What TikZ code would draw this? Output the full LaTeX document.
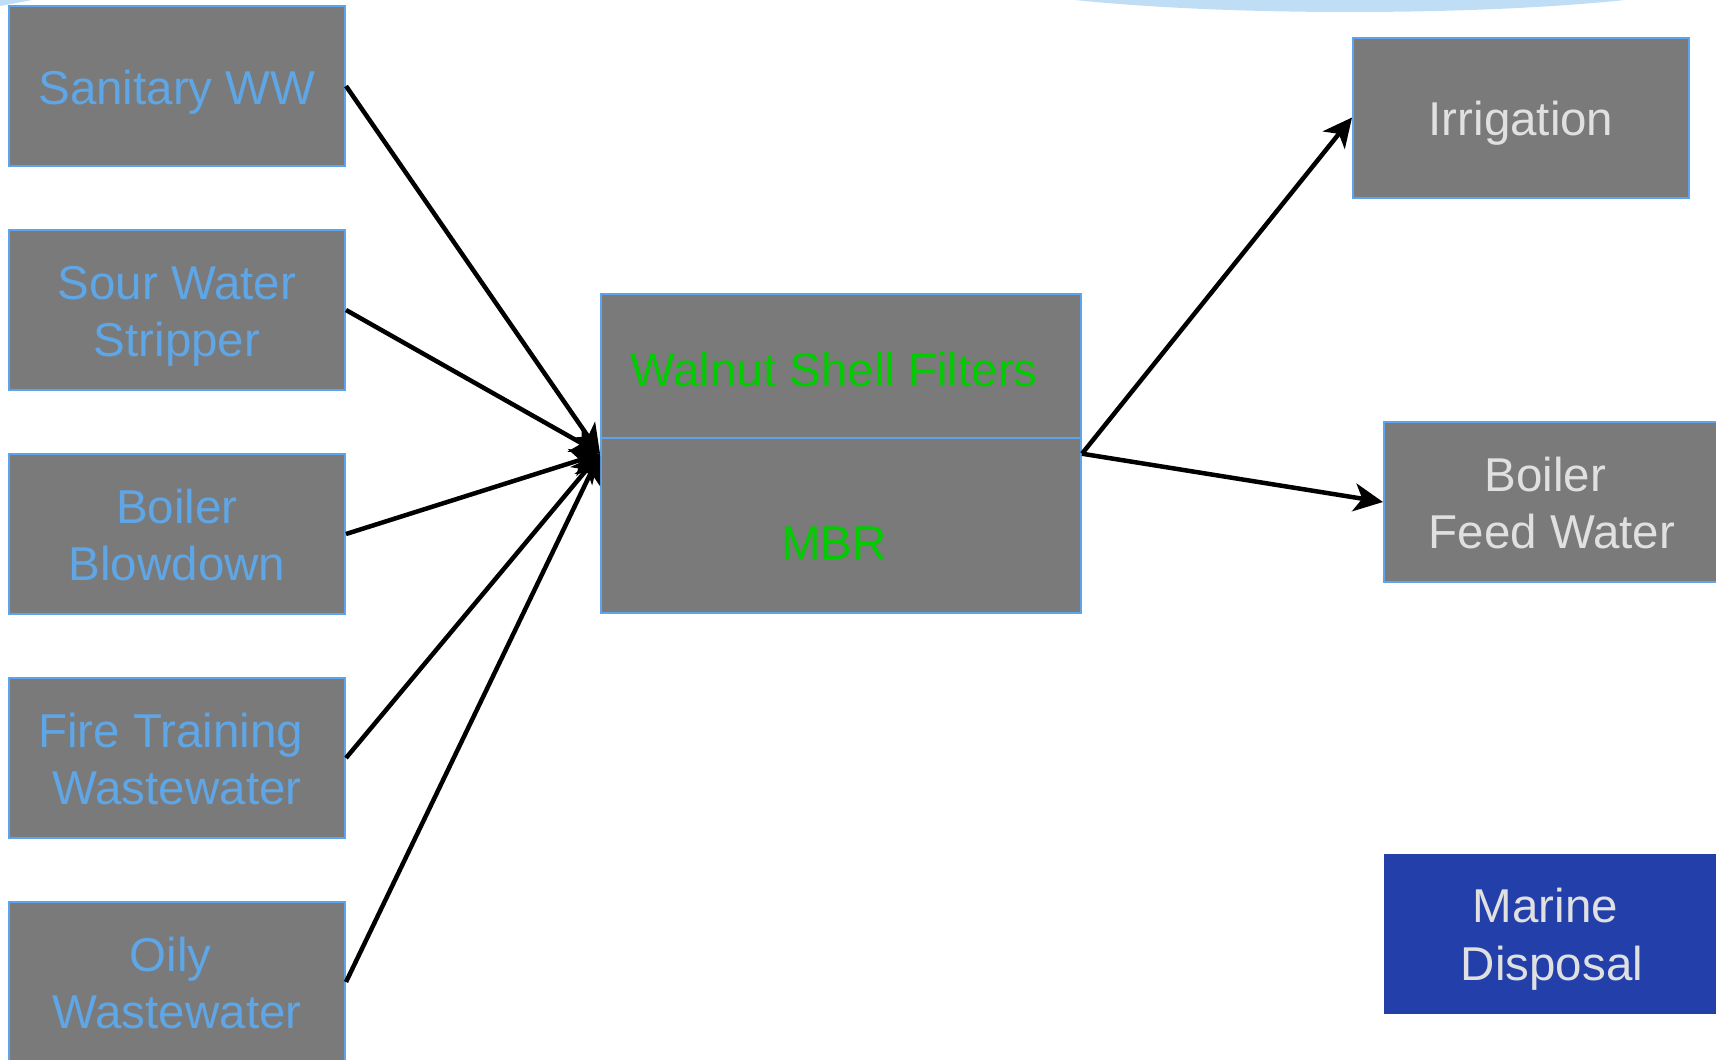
\documentclass[tikz,border=0pt]{standalone}
\usepackage{fontspec}
\setmainfont{Liberation Sans}
\usetikzlibrary{arrows.meta}
\definecolor{boxgray}{HTML}{7A7A7A}
\definecolor{boxedge}{HTML}{5DA5E8}
\definecolor{srctext}{HTML}{5EA6E6}
\definecolor{lighttext}{HTML}{E0E0E0}
\definecolor{greentext}{HTML}{00CC00}
\definecolor{marineblue}{HTML}{2340AA}
\definecolor{arcblue}{HTML}{C0DDF6}
\newcommand{\tup}{\rule{0pt}{47pt}}
\newcommand{\tdn}{\rule[-11pt]{0pt}{11pt}}
\begin{document}
\begin{tikzpicture}[x=1pt,y=-1pt,
  box/.style={draw=boxedge, line width=2pt, fill=boxgray, minimum width=336pt,
    minimum height=160pt, inner sep=0pt, align=center,
    font=\fontsize{47.5}{57.5}\selectfont},
  srcbox/.style={box, text=srctext},
  dstbox/.style={box, text=lighttext},
  bigtext/.style={font=\fontsize{47.5}{57.5}\selectfont, text=greentext, inner sep=0pt},
  flow/.style={line width=4.5pt, -{Stealth[length=29pt,width=28pt,inset=8pt]}}
]
\useasboundingbox (0,0) rectangle (1716,1060);
% background decorations
\fill[arcblue] (1350,-30) ellipse [x radius=393pt, y radius=42pt];
\fill[arcblue] (0,0) -- (32,0) -- (0,6) -- cycle;

% source boxes
\node[srcbox] (san) at (177,86) {\tup Sanitary WW\tdn};
\node[srcbox] (sour) at (177,310) {\tup Sour Water\\Stripper\tdn};
\node[srcbox] (blow) at (177,534) {\tup Boiler\\Blowdown\tdn};
\node[srcbox] (fire) at (177,758) {\tup Fire Training\hspace*{13pt}\\Wastewater\tdn};
\node[srcbox] (oily) at (177,982) {\tup Oily\hspace*{13pt}\\Wastewater\tdn};

% central treatment box
\node[draw=boxedge, line width=2pt, fill=boxgray, minimum width=480pt,
  minimum height=319pt, inner sep=0pt] (ctr) at (841,453.7) {};
\coordinate (divl) at (601,438);
\coordinate (divr) at (1081,438);
\draw[boxedge, line width=2pt] (divl) -- (divr);
\node[bigtext, anchor=base] (wsf) at (834,386) {Walnut Shell Filters};
\node[bigtext, anchor=base] (mbr) at (834,559) {MBR};

% destination boxes
\node[dstbox] (irr) at (1521,117.5) {\tup Irrigation\tdn};
\node[dstbox] (bfw) at (1552,502) {\tup Boiler\hspace*{13pt}\\Feed Water\tdn};
\node[dstbox, draw=none, fill=marineblue] (mar) at (1552,933.5) {\tup Marine\hspace*{13pt}\\Disposal\tdn};

% flows
\draw[flow] (san.east) -- (ctr.west);
\draw[flow] (sour.east) -- (ctr.west);
\draw[flow] (blow.east) -- (ctr.west);
\draw[flow] (fire.east) -- (ctr.west);
\draw[flow] (oily.east) -- (ctr.west);
\draw[flow] (ctr.east) -- (irr.west);
\draw[flow] (ctr.east) -- (bfw.west);
\end{tikzpicture}
\end{document}
